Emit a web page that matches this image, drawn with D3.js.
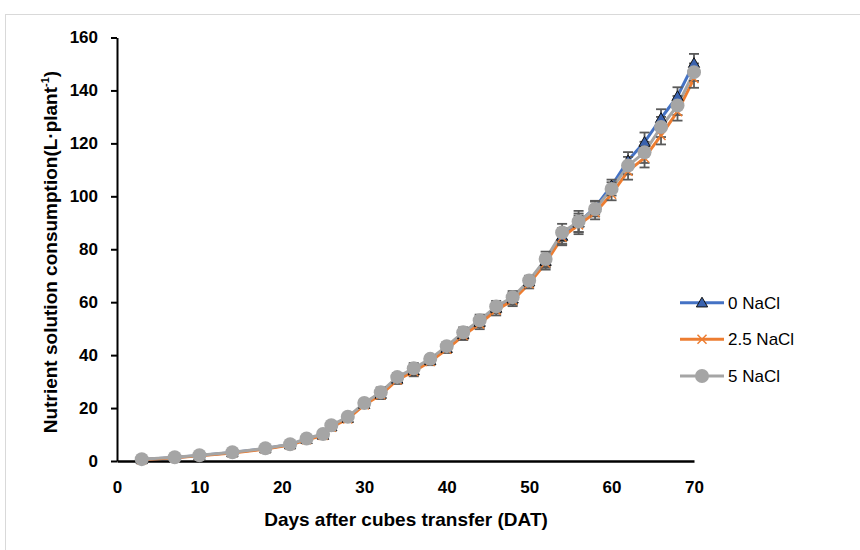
<!DOCTYPE html>
<html>
<head>
<meta charset="utf-8">
<script src="https://cdn.jsdelivr.net/npm/d3@7"></script>
<style>
  html, body { margin: 0; padding: 0; background: #fff; }
  svg { display: block; font-family: "Liberation Sans", Arial, sans-serif; }
</style>
</head>
<body>
<svg id="chart" width="860" height="550"></svg>
<script>
const days = [3,7,10,14,18,21,23,25,26,28,30,32,34,36,38,40,42,44,46,48,50,52,54,56,58,60,62,64,66,68,70];
const seriesNames = ["0 NaCl", "2.5 NaCl", "5 NaCl"];
const nacl0  = [0.6,1.3,2.1,3.2,4.7,6.2,8.2,9.8,13.0,16.2,21.5,25.3,31.0,34.2,38.0,42.6,47.8,52.5,57.8,61.3,67.8,75.5,85.0,90.0,95.8,104.0,113.5,120.5,129.5,137.8,150.3];
const nacl25 = [0.5,1.2,2.0,3.0,4.5,6.0,8.0,9.6,12.8,15.9,21.2,25.0,30.6,33.8,37.6,42.2,47.4,51.8,57.0,60.7,67.0,74.8,84.5,89.2,93.8,100.8,109.5,114.5,123.0,132.0,144.5];
const nacl5  = [0.7,1.4,2.2,3.3,4.8,6.3,8.5,10.2,13.5,16.7,21.9,26.0,31.7,35.0,38.6,43.4,48.6,53.2,58.4,61.9,68.2,76.3,86.3,90.5,95.2,102.8,111.6,116.6,126.2,134.3,146.9];
const err0   = [0.2,0.2,0.3,0.3,0.4,0.5,0.6,0.8,1.0,1.1,1.2,1.6,1.5,1.8,1.4,1.4,1.7,2.0,2.0,2.2,1.8,2.5,3.0,3.5,2.5,2.3,3.2,3.6,3.4,3.4,3.5];
const err25  = [0.2,0.2,0.3,0.3,0.4,0.5,0.6,0.8,1.0,1.1,1.2,1.6,1.5,1.8,1.4,1.4,1.7,2.0,2.0,2.2,1.8,2.5,3.0,3.5,2.5,2.3,3.2,3.6,3.4,3.4,3.5];
const err5   = [0.2,0.2,0.3,0.3,0.4,0.5,0.6,0.8,1.0,1.1,1.2,1.8,1.6,2.0,1.5,1.5,1.9,2.1,2.1,2.3,1.8,2.8,3.3,4.0,2.8,2.5,3.3,4.0,3.8,3.6,3.3];
const xTicks = [0,10,20,30,40,50,60,70];
const yTicks = [0,20,40,60,80,100,120,140,160];
const xTitle = "Days after cubes transfer (DAT)";

const colors = ["#4472C4", "#ED7D31", "#A5A5A5"];
const values = [nacl0, nacl25, nacl5];
const errors = [err0, err25, err5];

const svg = d3.select("#chart");

// outer frame
svg.append("rect").attr("x", 5.5).attr("y", 14.5).attr("width", 900).attr("height", 600)
  .attr("fill", "none").attr("stroke", "#d9d9d9").attr("stroke-width", 1);

const x = d3.scaleLinear().domain([0, 70]).range([117, 694]);
const y = d3.scaleLinear().domain([0, 160]).range([461, 37.5]);

// axes
const yAxis = svg.append("g").attr("transform", "translate(117,0)")
  .call(d3.axisLeft(y).tickValues(yTicks).tickSize(6).tickSizeOuter(0).tickPadding(13));
yAxis.selectAll("path, line").attr("stroke", "#000").attr("stroke-width", 2);
yAxis.selectAll("text").attr("font-size", 17).attr("font-weight", "bold").attr("fill", "#000")
  .attr("font-family", "Liberation Sans, Arial, sans-serif");

const xAxis = svg.append("g").attr("transform", "translate(0,461)")
  .call(d3.axisBottom(x).tickValues(xTicks).tickSize(0).tickSizeOuter(0).tickPadding(20));
xAxis.selectAll("path").attr("stroke", "#000").attr("stroke-width", 2.5);
xAxis.selectAll("text").attr("font-size", 17).attr("font-weight", "bold").attr("fill", "#000")
  .attr("font-family", "Liberation Sans, Arial, sans-serif");

// titles
svg.append("text").attr("x", 406).attr("y", 526).attr("text-anchor", "middle")
  .attr("font-size", 19).attr("font-weight", "bold").text(xTitle);

const yt = svg.append("text").attr("transform", "translate(57,252) rotate(-90)")
  .attr("text-anchor", "middle").attr("font-size", 19).attr("font-weight", "bold");
yt.append("tspan").text("Nutrient solution consumption(L·plant");
yt.append("tspan").attr("font-size", 11).attr("dy", -8).text("-1");
yt.append("tspan").attr("dy", 8).text(")");

// lines
const line = d3.line().x((d, i) => x(days[i])).y(d => y(d));
values.forEach((vals, s) => {
  svg.append("path").datum(vals).attr("d", line)
    .attr("fill", "none").attr("stroke", colors[s]).attr("stroke-width", 3)
    .attr("stroke-linejoin", "round");
});

// error bars
values.forEach((vals, s) => {
  const g = svg.append("g").attr("stroke", "#5a5a5a").attr("stroke-width", 1.8);
  vals.forEach((v, i) => {
    const cx = x(days[i]), e = errors[s][i];
    const y1 = y(v + e), y2 = y(v - e);
    g.append("line").attr("x1", cx).attr("x2", cx).attr("y1", y1).attr("y2", y2);
    g.append("line").attr("x1", cx - 5).attr("x2", cx + 5).attr("y1", y1).attr("y2", y1);
    g.append("line").attr("x1", cx - 5).attr("x2", cx + 5).attr("y1", y2).attr("y2", y2);
  });
});

// markers
const tri = d3.symbol().type(d3.symbolTriangle).size(55);
function drawMarker(g, s, cx, cy) {
  if (s === 0) {
    g.append("path").attr("d", tri()).attr("transform", `translate(${cx},${cy + 1})`)
      .attr("fill", "#3a62ae").attr("stroke", "#111").attr("stroke-width", 1);
  } else if (s === 1) {
    const r = 4.5;
    g.append("path").attr("d", `M${cx - r},${cy - r}L${cx + r},${cy + r}M${cx - r},${cy + r}L${cx + r},${cy - r}`)
      .attr("stroke", colors[1]).attr("stroke-width", 1.5).attr("fill", "none");
  } else {
    g.append("circle").attr("cx", cx).attr("cy", cy).attr("r", 7).attr("fill", colors[2]);
  }
}
values.forEach((vals, s) => {
  const g = svg.append("g");
  vals.forEach((v, i) => drawMarker(g, s, x(days[i]), y(v)));
});

// legend
const legY = [302.7, 339.3, 376];
seriesNames.forEach((name, s) => {
  const g = svg.append("g");
  g.append("line").attr("x1", 680).attr("x2", 724).attr("y1", legY[s]).attr("y2", legY[s])
    .attr("stroke", colors[s]).attr("stroke-width", 3);
  drawMarker(g, s, 702, legY[s]);
  g.append("text").attr("x", 728).attr("y", legY[s]).attr("dy", "0.35em")
    .attr("font-size", 17).attr("fill", "#000").text(name);
});
</script>
</body>
</html>
